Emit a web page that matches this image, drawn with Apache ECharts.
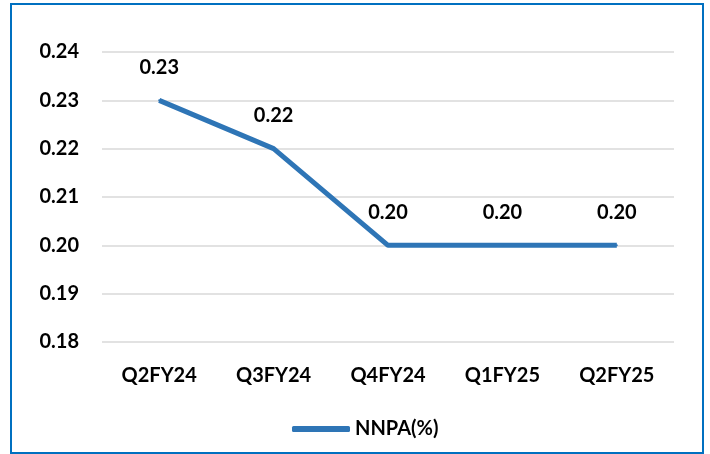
<!DOCTYPE html>
<html><head><meta charset="utf-8">
<script src="https://cdn.jsdelivr.net/npm/echarts@6/dist/echarts.min.js"></script>
<style>html,body{margin:0;padding:0;background:#fff}#c{width:710px;height:454px}</style>
</head><body><div id="c"></div>
<script>
const categories = ['Q2FY24','Q3FY24','Q4FY24','Q1FY25','Q2FY25'];
const nnpa = [0.23, 0.22, 0.20, 0.20, 0.20];
const seriesName = 'NNPA(%)';
const FONT = 'Lato, "Open Sans", sans-serif';
const LINE = '#2e75b6';
const chart = echarts.init(document.getElementById('c'), null, {renderer:'canvas'});
chart.setOption({
  animation:false,
  graphic:[{type:'rect', shape:{x:11,y:4,width:692,height:449}, style:{fill:'none', stroke:'#0070c0', lineWidth:2}}],
  grid:{left:102, right:36, top:52, bottom:112},
  legend:{data:[{name:seriesName, icon:'roundRect'}], left:287, top:414, itemWidth:58, itemHeight:6, itemGap:6,
    formatter:n=>'{b|'+n+'}',
    textStyle:{fontFamily:FONT, fontWeight:'bold', fontSize:20, color:'#000',
      rich:{b:{fontFamily:FONT, fontWeight:'bold', fontSize:20, color:'#000'}}},
    itemStyle:{color:LINE, borderWidth:0, opacity:1}},
  xAxis:{type:'category', data:categories, boundaryGap:true,
    axisLine:{show:false}, axisTick:{show:false},
    axisLabel:{margin:24, fontFamily:FONT, fontWeight:'bold', fontSize:20, color:'#000'}},
  yAxis:{type:'value', min:0.18, max:0.24, interval:0.01,
    axisLine:{show:false}, axisTick:{show:false},
    splitLine:{lineStyle:{color:'#d9d9d9', width:1.5}},
    axisLabel:{margin:23, fontFamily:FONT, fontWeight:'bold', fontSize:20, color:'#000',
      formatter:v=>v.toFixed(2)}},
  series:[{name:seriesName, type:'line', data:nnpa, symbol:'circle', symbolSize:2, showSymbol:true,
    lineStyle:{color:LINE, width:5}, itemStyle:{color:LINE},
    label:{show:true, position:'top', distance:22, fontFamily:FONT, fontWeight:'bold', fontSize:20, color:'#000',
      formatter:p=>p.value.toFixed(2)}}]
});
</script></body></html>
